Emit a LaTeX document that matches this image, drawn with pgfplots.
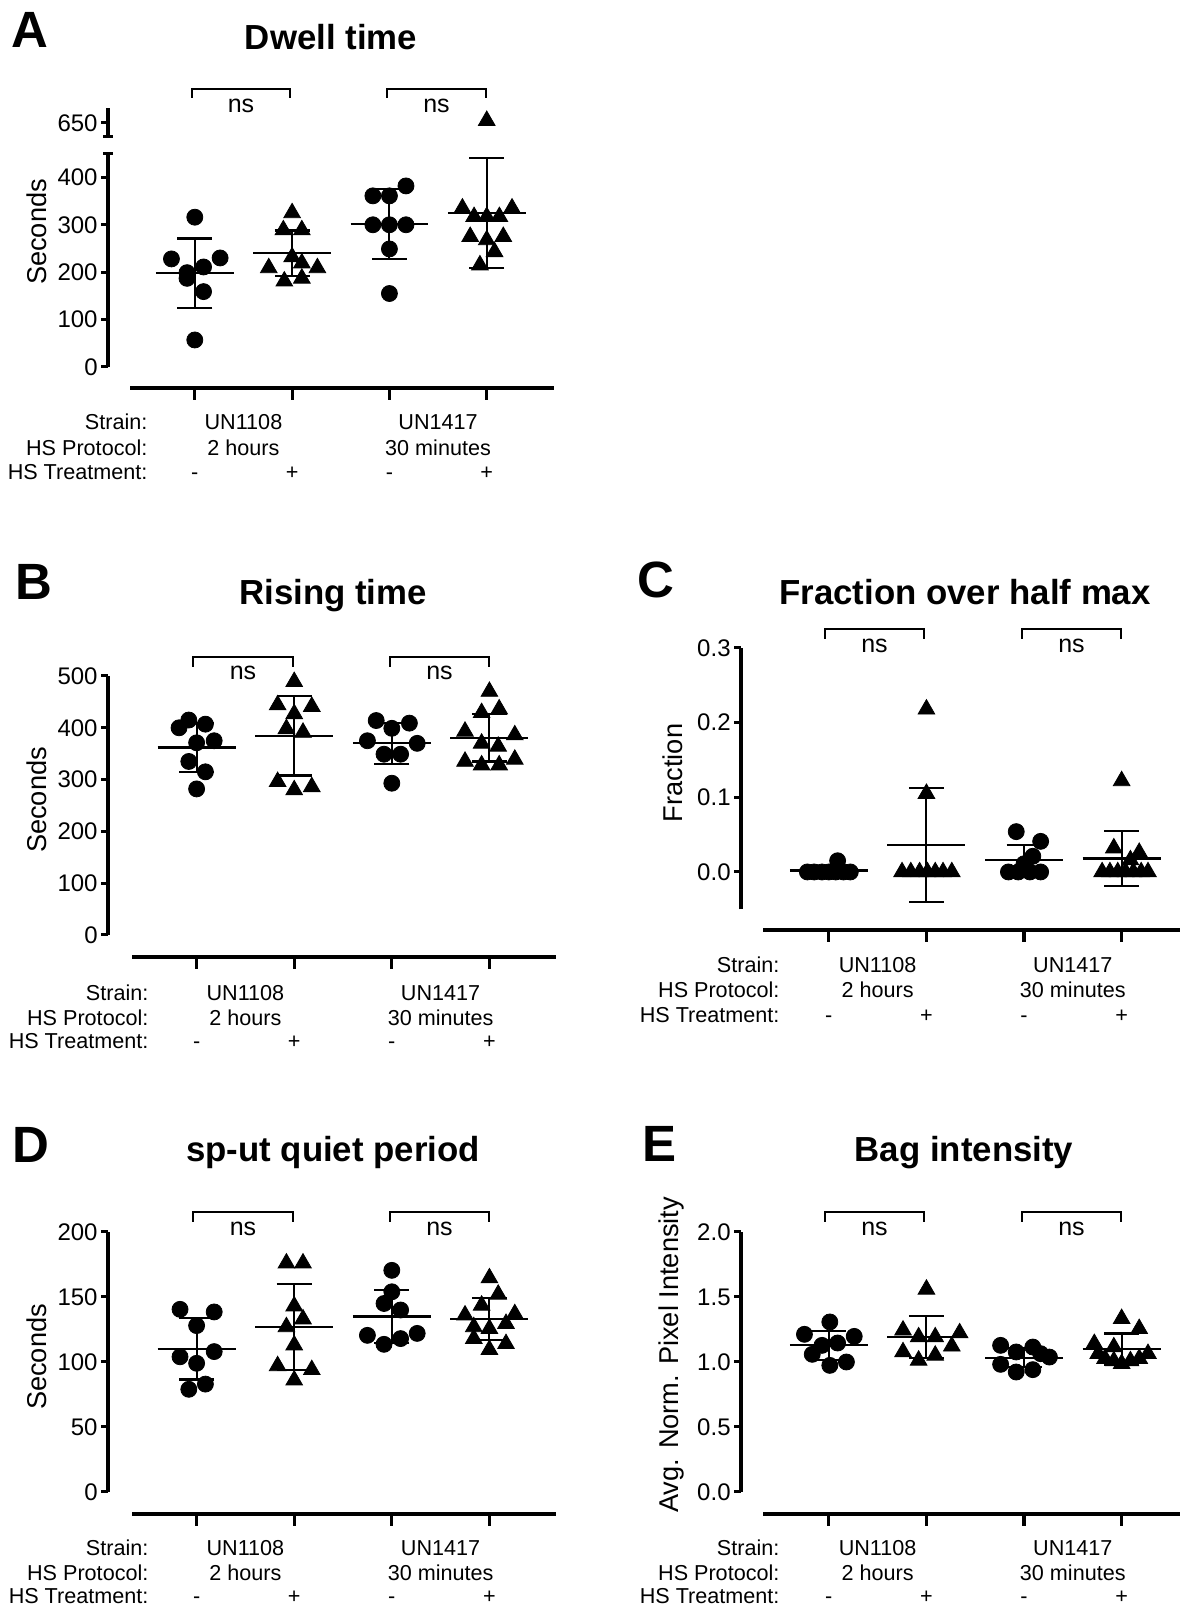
\documentclass[border=0pt]{standalone}
\usepackage{fontspec}
\setmainfont{Liberation Sans}
\usepackage{pgfplots}
\pgfplotsset{compat=1.18}

\pgfplotsset{
  gp/.style={
    scale only axis,
    axis lines=left,
    axis line style={-, line width=1.6pt, black},
    x axis line style={draw=none},
    xtick=\empty,
    tick align=outside,
    major tick length=3.5pt,
    tick style={black, line width=1.5pt},
    yticklabel style={font=\fontsize{12}{14}\selectfont, inner xsep=1.5pt},
    /pgf/number format/assume math mode=true,
    clip=false,
    anchor=south west,
  },
  circ/.style={only marks, mark=*, mark size=4pt, black},
  tri/.style={only marks, mark=triangle*, mark size=4.8pt, black},
  mline/.style={no marks, line width=1.05pt, black, forget plot},
  sd/.style={black, line width=1.05pt, mark=none, forget plot,
    error bars/.cd, y dir=both, y explicit,
    error bar style={black, line width=1.05pt},
    error mark options={rotate=90, black, line width=1.05pt, mark size=8.75pt}},
  onedec/.style={yticklabel style={/pgf/number format/.cd, fixed, fixed zerofill, precision=1}},
}

\newcommand\catlab[8]{%
  \node[anchor=base east] at (#1,#6) {Strain:};
  \node[anchor=base east] at (#1,#7) {HS Protocol:};
  \node[anchor=base east] at (#1,#8) {HS Treatment:};
  \node[anchor=base] at ({(#2+#3)/2},#6) {UN1108};
  \node[anchor=base] at ({(#2+#3)/2},#7) {2 hours};
  \node[anchor=base] at ({(#4+#5)/2},#6) {UN1417};
  \node[anchor=base] at ({(#4+#5)/2},#7) {30 minutes};
  \node[anchor=base] at (#2,#8) {-};
  \node[anchor=base] at (#3,#8) {+};
  \node[anchor=base] at (#4,#8) {-};
  \node[anchor=base] at (#5,#8) {+};
}
\newcommand\brk[5]{% x1 x2 top bottom nsbaseline
  \draw[line join=miter, line width=1.45pt] (#1,#4) -- (#1,#3) -- (#2,#3) -- (#2,#4);
  \node[anchor=base, font=\fontsize{12.5}{14}\selectfont] at ({(#1+#2)/2},#5) {ns};
}
\newcommand\xaxisline[5]{% y, xstart, xend, ticks list, tick end y
  \draw (#2,#1) -- (#3,#1);
  \foreach \c in {#4} \draw (\c,#1) -- (\c,#5);
}

\begin{document}
\begin{tikzpicture}
\useasboundingbox (0,0) rectangle (590pt,805.5pt);

% ---------------- Panel A (lower) ----------------
\begin{axis}[gp, at={(54pt,622pt)}, width=222.5pt, height=106.65pt,
  xmin=-0.892, xmax=3.681, ymin=0, ymax=450, ytick={0,100,200,300,400}]
\addplot[circ] coordinates {(0,316) (-0.24,228) (0.26,230) (0.09,211) (-0.08,199) (-0.08,187) (0.09,159) (0,57)};
\addplot[mline] coordinates {(-0.40,198) (0.40,198)};
\addplot[sd] coordinates {(0,198) +- (0,73)};
\addplot[tri] coordinates {(1,325) (0.91,289) (1.10,289) (1,232) (1.10,219) (0.76,209) (1.26,209) (0.92,181) (1.10,187)};
\addplot[mline] coordinates {(0.60,240) (1.40,240)};
\addplot[sd] coordinates {(1,240) +- (0,48)};
\addplot[circ] coordinates {(2.17,382) (1.83,361) (2,361) (1.83,300) (2,300) (2.17,300) (2,249) (2,155)};
\addplot[mline] coordinates {(1.60,301) (2.40,301)};
\addplot[sd] coordinates {(2,301) +- (0,74)};
\addplot[tri] coordinates {(2.75,335) (3.26,335) (2.87,317) (3,317) (3.13,317) (2.83,275) (3.17,275) (3,268) (3.08,243) (2.93,215)};
\addplot[mline] coordinates {(2.60,324) (3.40,324)};
\addplot[sd] coordinates {(3,324) +- (0,116)};
\end{axis}
% ---------------- Panel A (upper, broken segment) ----------------
\begin{axis}[gp, at={(54pt,737.35pt)}, width=222.5pt, height=14pt,
  xmin=-0.892, xmax=3.681, ymin=622, ymax=681, ytick={650}]
\addplot[tri] coordinates {(3,655)};
\end{axis}

% ---------------- Panel B ----------------
\begin{axis}[gp, at={(54pt,338pt)}, width=223.5pt, height=129.5pt,
  xmin=-0.908, xmax=3.672, ymin=0, ymax=500, ytick={0,100,200,300,400,500}]
\addplot[circ] coordinates {(-0.18,400) (-0.08,415) (0.09,407) (0,371) (0.18,375) (-0.08,335) (0.09,315) (0,282)};
\addplot[mline] coordinates {(-0.40,362) (0.40,362)};
\addplot[sd] coordinates {(0,362) +- (0,47)};
\addplot[tri] coordinates {(1,489) (0.83,444) (1.18,441) (1,427) (0.92,398) (1.09,391) (0.83,296) (1,280) (1.18,286)};
\addplot[mline] coordinates {(0.60,385) (1.40,385)};
\addplot[sd] coordinates {(1,385) +- (0,77)};
\addplot[circ] coordinates {(1.84,414) (2.18,409) (2,399) (1.75,375) (2.26,370) (1.92,349) (2.09,349) (2,293)};
\addplot[mline] coordinates {(1.60,370) (2.40,370)};
\addplot[sd] coordinates {(2,370) +- (0,40)};
\addplot[tri] coordinates {(3,470) (2.92,429) (3.1,436) (2.75,393) (3.26,386) (2.92,370) (3.09,364) (2.75,335) (2.92,328) (3.1,328) (3.26,339)};
\addplot[mline] coordinates {(2.60,381) (3.40,381)};
\addplot[sd] coordinates {(3,381) +- (0,46)};
\end{axis}

% ---------------- Panel C ----------------
\begin{axis}[gp, onedec, at={(370.5pt,350.85pt)}, width=219.6pt, height=130.65pt,
  xmin=-0.9, xmax=3.6, ymin=-0.05, ymax=0.3, ytick={0,0.1,0.2,0.3}]
\addplot[circ] coordinates {(-0.22,0) (-0.15,0) (-0.07,0) (0,0) (0.07,0) (0.15,0) (0.22,0) (0.09,0.015)};
\addplot[mline] coordinates {(-0.40,0.002) (0.40,0.002)};
\addplot[sd] coordinates {(0,0.002) +- (0,0.005)};
\addplot[tri] coordinates {(1,0.218) (1,0.105) (0.75,0) (0.84,0) (0.93,0) (1.01,0) (1.09,0) (1.17,0) (1.26,0)};
\addplot[mline] coordinates {(0.60,0.036) (1.40,0.036)};
\addplot[sd] coordinates {(1,0.036) +- (0,0.0765)};
\addplot[circ] coordinates {(1.92,0.054) (2.17,0.041) (2.09,0.021) (2.0,0.011) (1.84,0) (1.94,0) (2.06,0) (2.17,0)};
\addplot[mline] coordinates {(1.60,0.016) (2.40,0.016)};
\addplot[sd] coordinates {(2,0.016) +- (0,0.02)};
\addplot[tri] coordinates {(3,0.122) (2.92,0.032) (3.18,0.026) (3.09,0.016) (2.80,0) (2.88,0) (2.96,0) (3.04,0) (3.12,0) (3.2,0) (3.27,0)};
\addplot[mline] coordinates {(2.60,0.018) (3.40,0.018)};
\addplot[sd] coordinates {(3,0.018) +- (0,0.037)};
\end{axis}

% ---------------- Panel D ----------------
\begin{axis}[gp, at={(54pt,59.5pt)}, width=223.5pt, height=130pt,
  xmin=-0.908, xmax=3.672, ymin=0, ymax=200, ytick={0,50,100,150,200}]
\addplot[circ] coordinates {(-0.17,140.5) (0.18,138.5) (0,128) (-0.17,104) (0.18,108) (0,99) (0.09,83) (-0.08,79)};
\addplot[mline] coordinates {(-0.40,110) (0.40,110)};
\addplot[sd] coordinates {(0,110) +- (0,23.5)};
\addplot[tri] coordinates {(0.92,176) (1.09,176) (1,143) (1.09,133) (0.92,127) (1,113) (0.83,97) (1.18,94) (1,86)};
\addplot[mline] coordinates {(0.60,127) (1.40,127)};
\addplot[sd] coordinates {(1,127) +- (0,33)};
\addplot[circ] coordinates {(2,170.5) (2,154) (1.92,145) (2.09,140) (1.75,120.5) (2.26,122) (1.92,113.6) (2.09,118)};
\addplot[mline] coordinates {(1.60,135) (2.40,135)};
\addplot[sd] coordinates {(2,135) +- (0,20.5)};
\addplot[tri] coordinates {(3,164.6) (3.09,152) (2.92,143.6) (2.75,136) (3.26,137) (3,125.6) (2.84,127) (3.17,129.5) (2.84,118) (3.17,114) (3,109.5)};
\addplot[mline] coordinates {(2.60,133) (3.40,133)};
\addplot[sd] coordinates {(3,133) +- (0,16)};
\end{axis}

% ---------------- Panel E ----------------
\begin{axis}[gp, onedec, at={(370.5pt,59.5pt)}, width=219.6pt, height=130pt,
  xmin=-0.9, xmax=3.6, ymin=0, ymax=2, ytick={0,0.5,1,1.5,2}]
\addplot[circ] coordinates {(0.01,1.308) (-0.25,1.213) (0.26,1.197) (-0.07,1.128) (0.09,1.146) (-0.17,1.059) (0.18,1.0) (0.01,0.974)};
\addplot[mline] coordinates {(-0.40,1.128) (0.40,1.128)};
\addplot[sd] coordinates {(0,1.128) +- (0,0.113)};
\addplot[tri] coordinates {(1,1.559) (0.76,1.244) (1.34,1.223) (0.92,1.192) (1.09,1.192) (1.26,1.121) (0.76,1.077) (1.09,1.051) (0.92,1.013)};
\addplot[mline] coordinates {(0.60,1.192) (1.40,1.192)};
\addplot[sd] coordinates {(1,1.192) +- (0,0.163)};
\addplot[circ] coordinates {(1.76,1.128) (2.09,1.115) (1.92,1.077) (2.17,1.064) (2.26,1.038) (1.76,0.982) (1.92,0.923) (2.09,0.941)};
\addplot[mline] coordinates {(1.60,1.033) (2.40,1.033)};
\addplot[sd] coordinates {(2,1.033) +- (0,0.072)};
\addplot[tri] coordinates {(3,1.333) (3.18,1.256) (2.72,1.141) (2.92,1.115) (2.76,1.064) (3.27,1.064) (2.83,1.026) (3.18,1.026) (2.92,1.008) (3.09,1.008) (3,0.987)};
\addplot[mline] coordinates {(2.60,1.097) (3.40,1.097)};
\addplot[sd] coordinates {(3,1.097) +- (0,0.122)};
\end{axis}

% ---------------- annotations in pixel coordinates ----------------
\begin{scope}[shift={(0pt,805.5pt)}, x=0.5pt, y=-0.5pt, line width=1.6pt,
  every node/.style={inner sep=0pt, font=\fontsize{10.8}{12.5}\selectfont}]
% x axis lines
\xaxisline{388}{130}{554}{194.8,292.1,389.4,486.7}{400}
\xaxisline{957}{132}{556}{196.6,294.2,391.8,489.4}{969}
\xaxisline{930}{763}{1180}{828.8,926.4,1024,1121.6}{942}
\xaxisline{1514}{132}{556}{196.6,294.2,391.8,489.4}{1526}
\xaxisline{1514}{763}{1180}{828.8,926.4,1024,1121.6}{1526}
% break stubs on panel A y axis
\draw (103,153.7) -- (113,153.7);
\draw (103,136.3) -- (113,136.3);
% brackets
\brk{192}{290}{89}{98}{113}
\brk{387}{486}{89}{98}{113}
\brk{193}{293}{657}{667}{680}
\brk{390}{489}{657}{667}{680}
\brk{825}{924}{629}{639}{653}
\brk{1022}{1121}{629}{639}{653}
\brk{193}{293}{1212}{1222}{1236}
\brk{390}{489}{1212}{1222}{1236}
\brk{825}{924}{1212}{1222}{1236}
\brk{1022}{1121}{1212}{1222}{1236}
% category labels
\catlab{149}{194.8}{292.1}{389.4}{486.7}{430}{456}{480}
\catlab{150}{196.6}{294.2}{391.8}{489.4}{1001}{1026}{1049}
\catlab{781}{828.8}{926.4}{1024}{1121.6}{973}{998}{1023}
\catlab{150}{196.6}{294.2}{391.8}{489.4}{1556}{1580}{1604}
\catlab{781}{828.8}{926.4}{1024}{1121.6}{1556}{1580}{1604}
% titles
\node[anchor=base, font=\bfseries\fontsize{17.4}{20}\selectfont] at (331,50) {Dwell time};
\node[anchor=base, font=\bfseries\fontsize{17.4}{20}\selectfont] at (333,605) {Rising time};
\node[anchor=base, font=\bfseries\fontsize{17.4}{20}\selectfont] at (965,605) {Fraction over half max};
\node[anchor=base, font=\bfseries\fontsize{17.4}{20}\selectfont] at (333,1162) {sp-ut quiet period};
\node[anchor=base, font=\bfseries\fontsize{17.4}{20}\selectfont] at (964,1162) {Bag intensity};
% panel letters
\node[anchor=base west, font=\bfseries\fontsize{25.5}{30}\selectfont] at (10,48) {A};
\node[anchor=base west, font=\bfseries\fontsize{25.5}{30}\selectfont] at (14,600) {B};
\node[anchor=base west, font=\bfseries\fontsize{25.5}{30}\selectfont] at (636,598) {C};
\node[anchor=base west, font=\bfseries\fontsize{25.5}{30}\selectfont] at (11,1163) {D};
\node[anchor=base west, font=\bfseries\fontsize{25.5}{30}\selectfont] at (641,1162) {E};
% y labels
\node[rotate=90, font=\fontsize{13.6}{16}\selectfont] at (36.5,232) {Seconds};
\node[rotate=90, font=\fontsize{13.6}{16}\selectfont] at (36.5,800) {Seconds};
\node[rotate=90, font=\fontsize{13.6}{16}\selectfont] at (36.5,1357) {Seconds};
\node[rotate=90, font=\fontsize{13.6}{16}\selectfont] at (673,773) {Fraction};
\node[rotate=90, font=\fontsize{13.6}{16}\selectfont] at (671,1355) {Avg. Norm. Pixel Intensity};
\end{scope}
\end{tikzpicture}
\end{document}
